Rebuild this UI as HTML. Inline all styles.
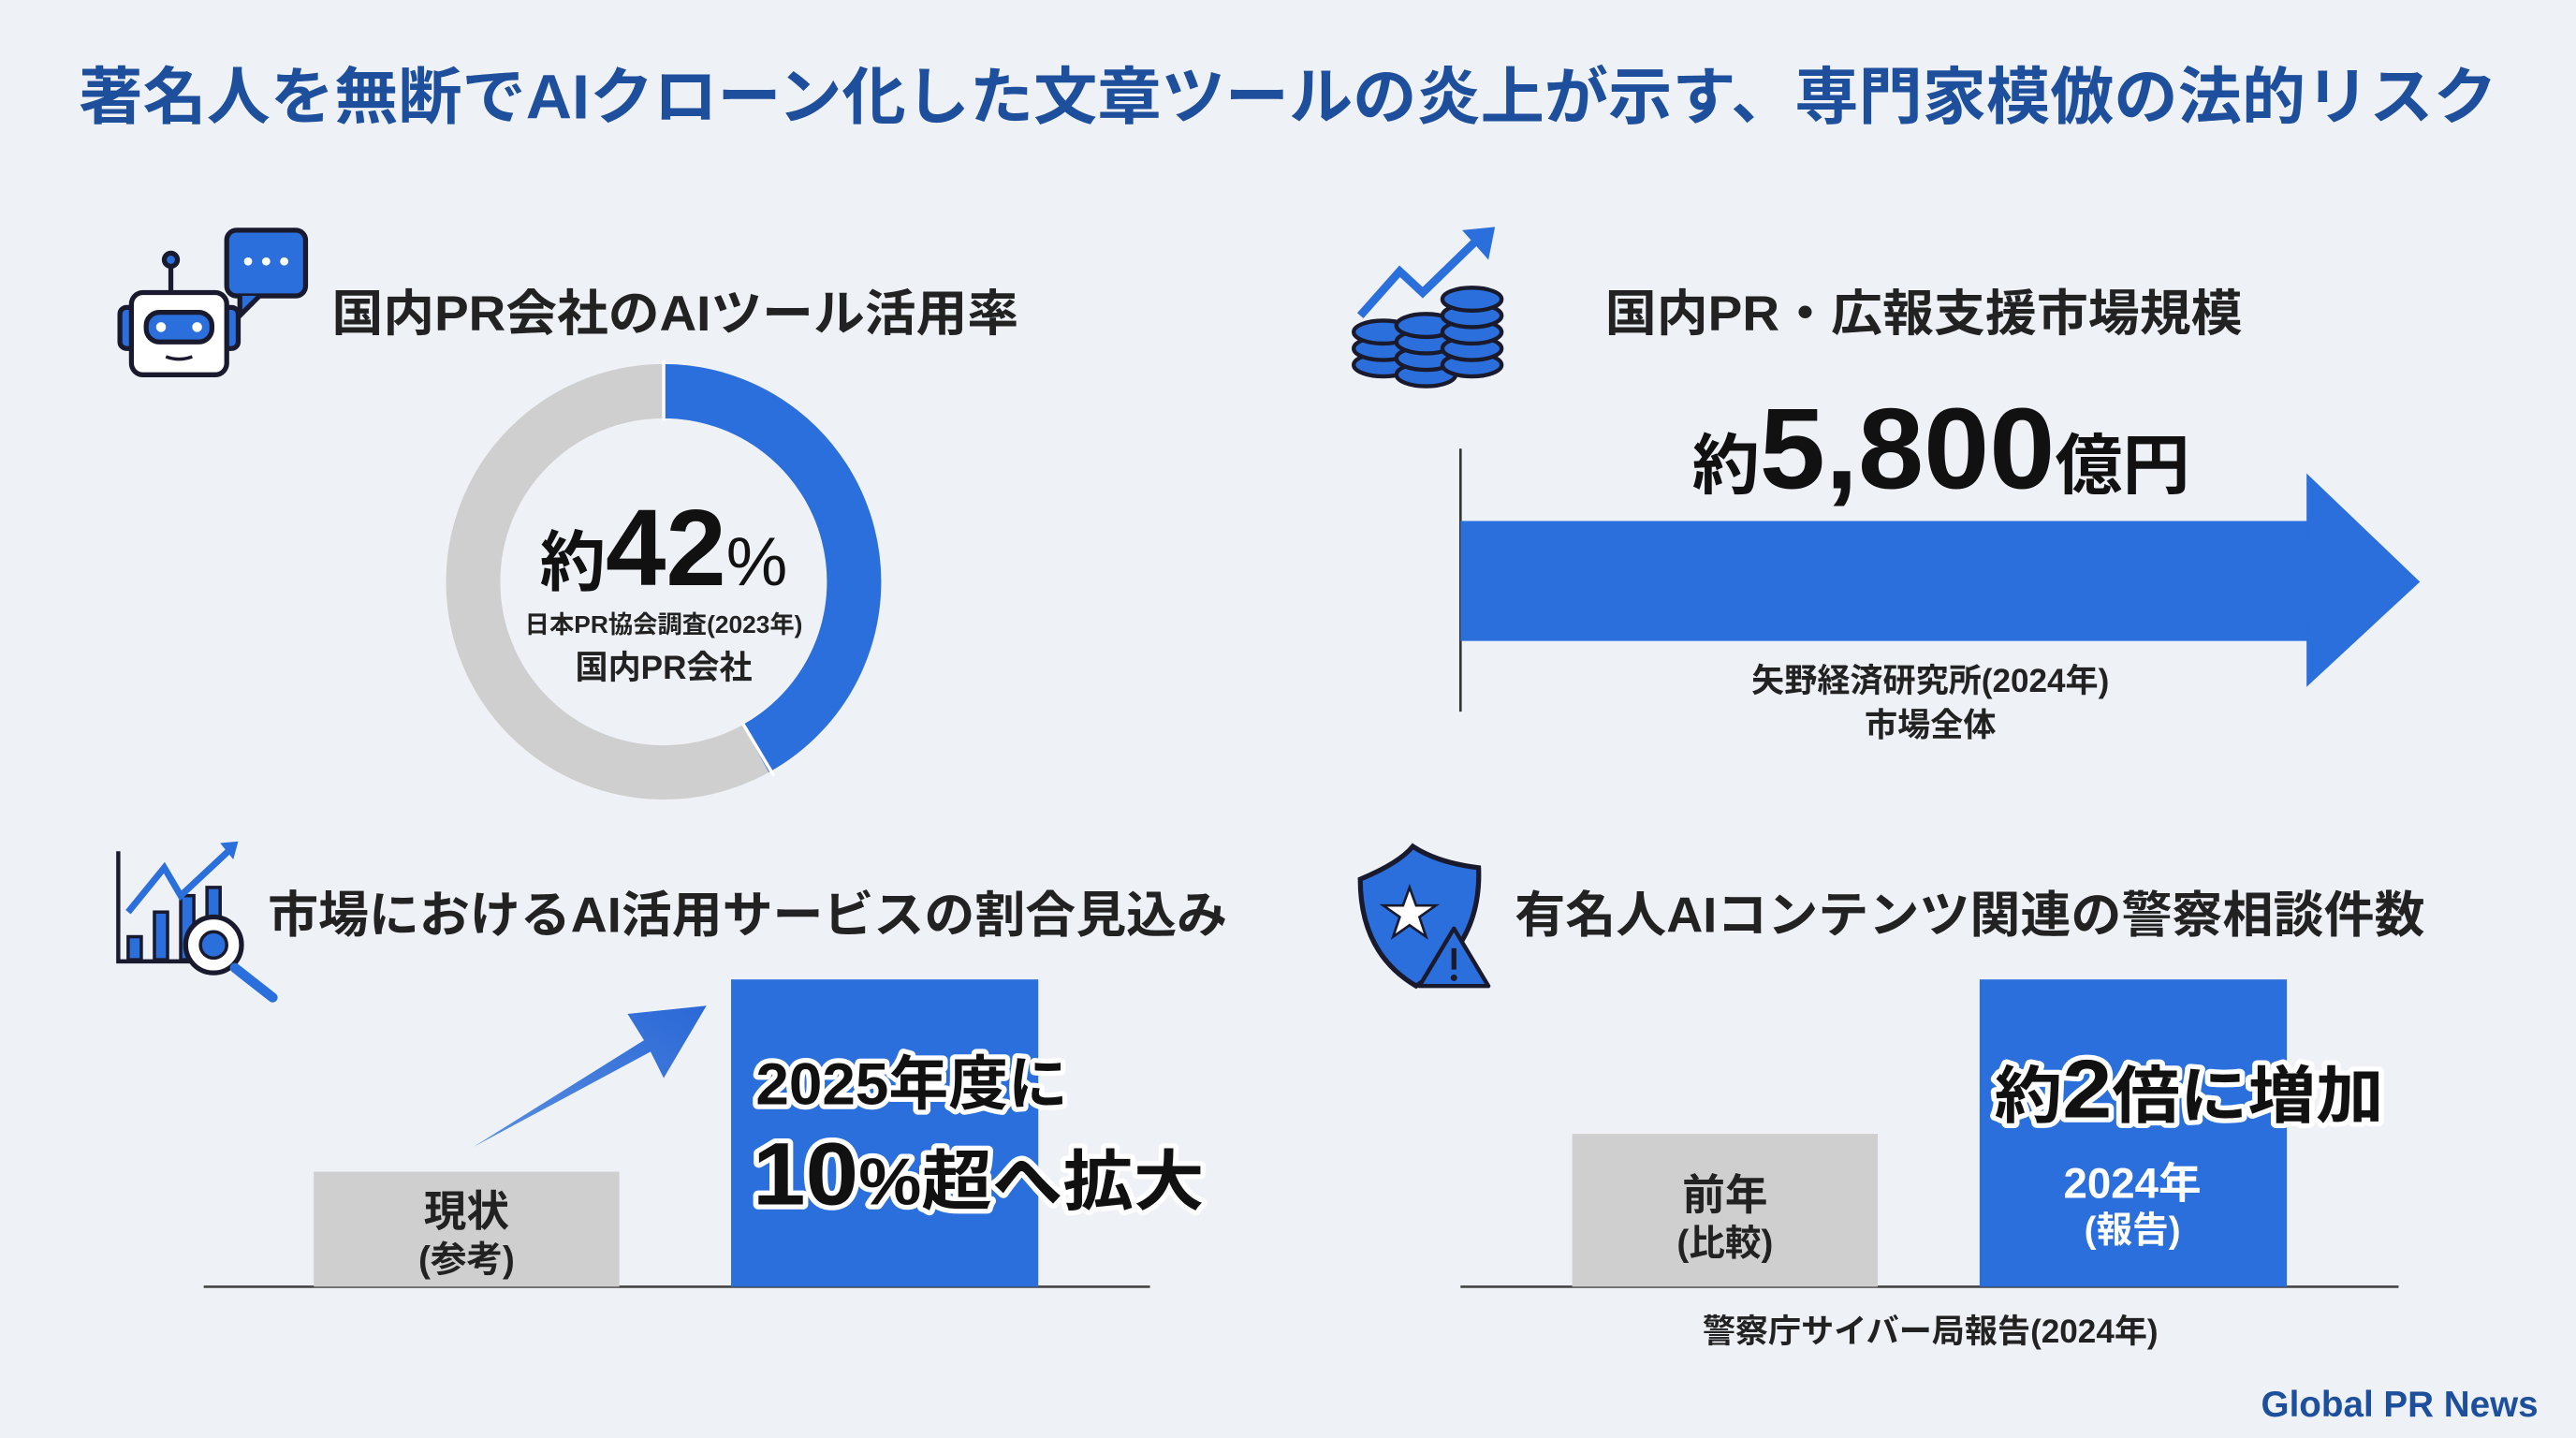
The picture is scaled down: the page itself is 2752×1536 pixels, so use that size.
<!DOCTYPE html>
<html><head><meta charset="utf-8"><style>
html,body{margin:0;padding:0;background:#eef2f6;}
svg{display:block;}
text{font-family:"Liberation Sans","Noto Sans CJK JP",sans-serif;font-weight:700;}
</style></head><body>
<svg width="2752" height="1536" viewBox="0 0 1568 875" xmlns="http://www.w3.org/2000/svg">
<defs>
<linearGradient id="ag" x1="0" y1="1" x2="1" y2="0"><stop offset="0" stop-color="#5b8fe0"/><stop offset="1" stop-color="#2a68d6"/></linearGradient>
</defs>
<rect width="1568" height="875" fill="#eef2f6"/>
<text x="48" y="72" font-size="38" fill="#1e4f9c" textLength="1472" lengthAdjust="spacingAndGlyphs">著名人を無断でAIクローン化した文章ツールの炎上が示す、専門家模倣の法的リスク</text>

<!-- robot icon -->
<g stroke="#1a1a2e" stroke-width="3">
<rect x="138" y="140" width="48" height="40" rx="6" fill="#2a6fdb"/>
<path d="M146 180 L146 192 L158 180" fill="#2a6fdb"/>
<line x1="104" y1="160" x2="104" y2="177"/>
<circle cx="104" cy="158" r="4" fill="#2a6fdb"/>
<rect x="73" y="187" width="10" height="25" rx="4" fill="#2a6fdb"/>
<rect x="135" y="187" width="10" height="25" rx="4" fill="#2a6fdb"/>
<rect x="80" y="178" width="58" height="50" rx="7" fill="#fff"/>
<rect x="89" y="190" width="40" height="18" rx="8" fill="#2a6fdb"/>
</g>
<circle cx="98" cy="199" r="3" fill="#fff"/><circle cx="120" cy="199" r="3" fill="#fff"/>
<path d="M101 217 Q109 220 117 217" stroke="#1a1a2e" stroke-width="2" fill="none"/>
<circle cx="151" cy="159" r="2.5" fill="#fff"/><circle cx="162" cy="159" r="2.5" fill="#fff"/><circle cx="173" cy="159" r="2.5" fill="#fff"/>
<text x="202" y="201" font-size="30" fill="#222" textLength="418" lengthAdjust="spacingAndGlyphs">国内PR会社のAIツール活用率</text>

<!-- donut -->
<circle cx="404" cy="354" r="116" fill="none" stroke="#cfcfcf" stroke-width="33"/>
<path d="M404 238 A116 116 0 0 1 460 455.5" fill="none" stroke="#2a6fdb" stroke-width="33"/>
<line x1="404" y1="219" x2="404" y2="256" stroke="#fff" stroke-width="2"/>
<line x1="452" y1="440" x2="471" y2="472" stroke="#fff" stroke-width="2"/>
<text x="404" y="356" text-anchor="middle" fill="#111"><tspan font-size="40">約</tspan><tspan font-size="66">42</tspan><tspan font-size="42" font-weight="400">%</tspan></text>
<text x="404" y="385" text-anchor="middle" font-size="15" fill="#222">日本PR協会調査(2023年)</text>
<text x="404" y="413" text-anchor="middle" font-size="20" fill="#222">国内PR会社</text>

<!-- coins icon -->
<g stroke="#1a1a2e" stroke-width="2.5" fill="#2a6fdb">
<ellipse cx="842" cy="222" rx="18" ry="7"/><ellipse cx="842" cy="212" rx="18" ry="7"/><ellipse cx="842" cy="202" rx="18" ry="7"/>
<ellipse cx="868" cy="228" rx="18" ry="7"/><ellipse cx="868" cy="218" rx="18" ry="7"/><ellipse cx="868" cy="208" rx="18" ry="7"/><ellipse cx="868" cy="198" rx="18" ry="7"/>
<ellipse cx="896" cy="222" rx="18" ry="7"/><ellipse cx="896" cy="212" rx="18" ry="7"/><ellipse cx="896" cy="202" rx="18" ry="7"/><ellipse cx="896" cy="192" rx="18" ry="7"/><ellipse cx="896" cy="182" rx="18" ry="7"/>
</g>
<path d="M828 192 L852 165 L866 178 L900 145" stroke="#2a6fdb" stroke-width="5" fill="none"/>
<path d="M890 140 L910 138 L906 158 Z" fill="#2a6fdb"/>
<text x="977" y="201" font-size="30" fill="#222" textLength="388" lengthAdjust="spacingAndGlyphs">国内PR・広報支援市場規模</text>

<line x1="889" y1="273" x2="889" y2="433" stroke="#333" stroke-width="1.5"/>
<text x="1030" y="297" fill="#111" textLength="303" lengthAdjust="spacingAndGlyphs"><tspan font-size="40">約</tspan><tspan font-size="70">5,800</tspan><tspan font-size="40">億円</tspan></text>
<rect x="889" y="317" width="517" height="73" fill="#2a6fdb"/>
<path d="M1404 288 L1473 354 L1404 418 Z" fill="#2a6fdb"/>
<text x="1175" y="421" text-anchor="middle" font-size="20" fill="#222">矢野経済研究所(2024年)</text>
<text x="1175" y="448" text-anchor="middle" font-size="20" fill="#222">市場全体</text>

<!-- chart icon -->
<g stroke="#1a1a2e" stroke-width="2" fill="#2a6fdb">
<rect x="78" y="570" width="8" height="14"/><rect x="94" y="555" width="8" height="29"/><rect x="110" y="545" width="8" height="39"/><rect x="126" y="540" width="8" height="44"/>
</g>
<path d="M72 518 L72 585 L128 585" stroke="#1a1a2e" stroke-width="2.5" fill="none"/>
<path d="M78 555 L100 528 L110 545 L140 517" stroke="#2a6fdb" stroke-width="4" fill="none"/>
<path d="M134 513 L145 512 L142 523 Z" fill="#2a6fdb"/>
<circle cx="130" cy="575" r="17" fill="#fff" stroke="#1a1a2e" stroke-width="3"/>
<circle cx="130" cy="575" r="8" fill="#2a6fdb" stroke="#1a1a2e" stroke-width="2"/>
<line x1="143" y1="589" x2="166" y2="607" stroke="#2a6fdb" stroke-width="6" stroke-linecap="round"/>
<text x="163" y="567" font-size="30" fill="#222" textLength="584" lengthAdjust="spacingAndGlyphs">市場におけるAI活用サービスの割合見込み</text>

<line x1="124" y1="783" x2="700" y2="783" stroke="#444" stroke-width="1.5"/>
<rect x="191" y="713" width="186" height="70" fill="#cfcfcf"/>
<text x="284" y="746" text-anchor="middle" font-size="26" fill="#222">現状</text>
<text x="284" y="774" text-anchor="middle" font-size="22" fill="#222">(参考)</text>
<rect x="445" y="596" width="187" height="187" fill="#2a6fdb"/>
<path d="M288 698 L396 640 L404 656 L430 612 L382 617 L392 633 Z" fill="url(#ag)"/>
<g stroke="#fff" stroke-width="6" paint-order="stroke" stroke-linejoin="round" fill="#111">
<text x="460" y="672" font-size="36" textLength="190" lengthAdjust="spacingAndGlyphs">2025年度に</text>
<text x="458" y="733" textLength="275" lengthAdjust="spacingAndGlyphs"><tspan font-size="54">10</tspan><tspan font-size="40">%超へ拡大</tspan></text>
</g>

<!-- shield icon -->
<path d="M828 535 Q852 525 860 515 Q875 525 900 528 Q902 575 862 600 Q828 580 828 535 Z" fill="#2a6fdb" stroke="#1a1a2e" stroke-width="3"/>
<path d="M858 540 L862 551 L874 551 L864 558 L868 570 L858 563 L848 570 L852 558 L842 551 L854 551 Z" fill="#fff" stroke="#1a1a2e" stroke-width="1.5"/>
<path d="M885 565 L906 600 L864 600 Z" fill="#2a6fdb" stroke="#1a1a2e" stroke-width="2.5" stroke-linejoin="round"/>
<line x1="885" y1="577" x2="885" y2="590" stroke="#1a1a2e" stroke-width="3"/><circle cx="885" cy="595" r="2" fill="#1a1a2e"/>
<text x="922" y="567" font-size="30" fill="#222" textLength="554" lengthAdjust="spacingAndGlyphs">有名人AIコンテンツ関連の警察相談件数</text>

<line x1="889" y1="783" x2="1460" y2="783" stroke="#444" stroke-width="1.5"/>
<rect x="957" y="690" width="186" height="93" fill="#cfcfcf"/>
<text x="1050" y="736" text-anchor="middle" font-size="26" fill="#222">前年</text>
<text x="1050" y="764" text-anchor="middle" font-size="22" fill="#222">(比較)</text>
<rect x="1205" y="596" width="187" height="187" fill="#2a6fdb"/>
<g stroke="#fff" stroke-width="6" paint-order="stroke" stroke-linejoin="round" fill="#111">
<text x="1214" y="680" textLength="237" lengthAdjust="spacingAndGlyphs"><tspan font-size="38">約</tspan><tspan font-size="50">2</tspan><tspan font-size="38">倍に増加</tspan></text>
</g>
<text x="1298" y="729" text-anchor="middle" font-size="26" fill="#fff">2024年</text>
<text x="1298" y="756" text-anchor="middle" font-size="22" fill="#fff">(報告)</text>
<text x="1175" y="817" text-anchor="middle" font-size="20" fill="#222">警察庁サイバー局報告(2024年)</text>

<text x="1545" y="862" text-anchor="end" font-size="22" fill="#1e4f9c">Global PR News</text>
</svg>
</body></html>
